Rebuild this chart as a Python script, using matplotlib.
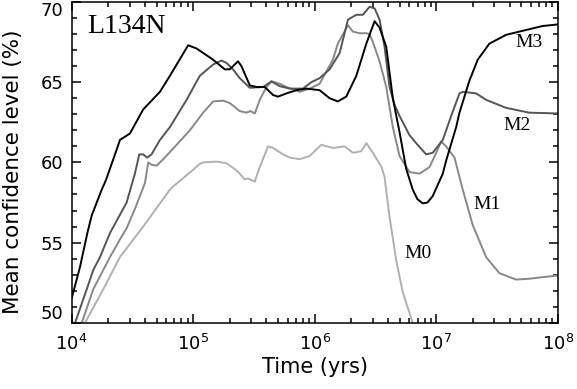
import numpy as np
import matplotlib
matplotlib.use("Agg")
import matplotlib.pyplot as plt
from matplotlib.ticker import FixedLocator, FixedFormatter, LogLocator, MultipleLocator, NullFormatter

plt.rcParams['font.family'] = ['DejaVu Sans']
plt.rcParams['mathtext.fontset'] = 'dejavusans'
plt.rcParams['mathtext.default'] = 'regular'

# ---- data: log10(time / yr) and mean confidence level (%) ----
m3_logt = [4.002, 4.070, 4.130, 4.166, 4.248, 4.283, 4.371, 4.398, 4.480, 4.589,
           4.727, 4.809, 4.959, 5.028, 5.164, 5.260, 5.301, 5.369, 5.397, 5.466,
           5.521, 5.589, 5.657, 5.698, 5.767, 5.849, 5.931, 6.040, 6.122, 6.190,
           6.259, 6.342, 6.424, 6.492, 6.533, 6.588, 6.642, 6.697, 6.752, 6.806,
           6.845, 6.888, 6.927, 6.970, 7.053, 7.080, 7.163, 7.190, 7.272, 7.340,
           7.436, 7.573, 7.709, 7.874, 8.000]
m3_conf = [51.55, 53.5, 55.6, 56.7, 58.3, 58.9, 60.8, 61.4, 61.8, 63.3,
           64.4, 65.4, 67.3, 67.1, 66.4, 65.8, 65.8, 66.3, 66.0, 64.8,
           64.7, 64.7, 64.2, 64.1, 64.3, 64.5, 64.6, 64.5, 64.0, 63.8,
           64.1, 65.4, 67.4, 68.8, 68.4, 67.2, 64.0, 61.9, 59.6, 58.3,
           57.7, 57.45, 57.5, 57.9, 59.3, 60.1, 62.2, 63.1, 65.1, 66.4,
           67.4, 67.95, 68.2, 68.5, 68.6]

m2_logt = [4.029, 4.125, 4.179, 4.234, 4.316, 4.453, 4.521, 4.557, 4.589, 4.622,
           4.658, 4.727, 4.809, 4.946, 5.055, 5.164, 5.233, 5.274, 5.328, 5.383,
           5.466, 5.575, 5.644, 5.712, 5.794, 5.903, 5.972, 6.040, 6.122, 6.204,
           6.273, 6.342, 6.396, 6.451, 6.492, 6.533, 6.574, 6.615, 6.656, 6.697,
           6.779, 6.834, 6.916, 6.970, 7.053, 7.122, 7.190, 7.217, 7.327, 7.409,
           7.573, 7.764, 7.997]
m2_conf = [50.0, 52.1, 53.3, 54.1, 55.6, 57.5, 59.3, 60.5, 60.5, 60.3,
           60.5, 61.4, 62.2, 63.9, 65.4, 66.1, 66.35, 66.2, 65.8, 65.25,
           64.65, 64.7, 65.05, 64.75, 64.6, 64.6, 65.0, 65.25, 65.8, 66.8,
           68.9, 69.2, 69.2, 69.7, 69.6, 68.9, 67.2, 64.7, 63.6, 62.9,
           61.7, 61.2, 60.5, 60.6, 61.4, 62.9, 64.3, 64.4, 64.3, 63.9,
           63.4, 63.1, 63.05]

m1_logt = [4.084, 4.179, 4.316, 4.398, 4.453, 4.521, 4.562, 4.603, 4.631, 4.658,
           4.700, 4.754, 4.864, 4.973, 5.082, 5.164, 5.246, 5.301, 5.383, 5.438,
           5.471, 5.507, 5.548, 5.603, 5.646, 5.712, 5.767, 5.876, 5.958, 6.040,
           6.149, 6.190, 6.273, 6.314, 6.369, 6.424, 6.451, 6.478, 6.533, 6.588,
           6.642, 6.697, 6.779, 6.861, 6.943, 6.993, 7.039, 7.080, 7.149, 7.217,
           7.299, 7.409, 7.518, 7.655, 7.764, 7.874, 7.997]
m1_conf = [50.0, 52.1, 54.1, 55.2, 55.9, 57.1, 57.9, 58.7, 60.0, 59.85,
           59.8, 60.2, 61.1, 62.0, 63.1, 63.8, 63.85, 63.7, 63.2, 63.1,
           63.2, 63.05, 63.9, 64.7, 65.05, 64.9, 64.7, 64.4, 64.6, 64.9,
           66.4, 67.4, 68.55, 68.15, 68.05, 68.05, 68.0, 67.5, 66.3, 64.7,
           62.2, 60.4, 59.4, 59.3, 59.7, 60.5, 61.3, 61.0, 60.3, 58.3,
           56.1, 54.1, 53.1, 52.7, 52.75, 52.85, 52.95]

m0_logt = [4.111, 4.275, 4.398, 4.589, 4.809, 4.836, 4.946, 5.055, 5.082, 5.192,
           5.274, 5.356, 5.383, 5.424, 5.452, 5.493, 5.507, 5.542, 5.616, 5.657,
           5.739, 5.794, 5.876, 5.958, 6.054, 6.149, 6.245, 6.314, 6.383, 6.424,
           6.478, 6.547, 6.574, 6.615, 6.670, 6.724, 6.806]
m0_conf = [50.0, 52.3, 54.1, 56.0, 58.3, 58.5, 59.2, 59.9, 60.0, 60.05,
           59.95, 59.5, 59.3, 58.95, 59.0, 58.85, 58.8, 59.6, 61.0, 60.9,
           60.5, 60.3, 60.2, 60.4, 61.1, 60.9, 61.0, 60.6, 60.7, 61.2,
           60.6, 59.75, 59.1, 56.6, 53.9, 51.9, 50.0]

series_names = ["M3", "M2", "M1", "M0"]
x_ticks = [1e4, 1e5, 1e6, 1e7, 1e8]
x_tick_labels = [r"$10^{4}$", r"$10^{5}$", r"$10^{6}$", r"$10^{7}$", r"$10^{8}$"]
y_ticks = [50, 55, 60, 65, 70]
y_tick_labels = ["50", "55", "60", "65", "70"]

colors = ["#000000", "#555555", "#888888", "#b0b0b0"]
label_pos = [(5.8e7, 67.45), (4.6e7, 62.3), (2.6e7, 57.35), (7.0e6, 54.3)]

fig = plt.figure(figsize=(5.77, 3.89), dpi=100)
ax = fig.add_axes([0.124, 0.170, 0.843, 0.825])

data = [(m3_logt, m3_conf), (m2_logt, m2_conf), (m1_logt, m1_conf), (m0_logt, m0_conf)]
for (lt, cf), c in zip(data[::-1], colors[::-1]):
    ax.plot(10 ** np.asarray(lt), cf, color=c, lw=1.4, solid_joinstyle='round')

for name, (xp, yp) in zip(series_names, label_pos):
    ax.text(xp, yp, name, family=['Liberation Serif', 'DejaVu Serif'], fontsize=14,
            ha='center', va='center')

ax.text(0.033, 0.925, "L134N", transform=ax.transAxes, family=['Liberation Serif', 'DejaVu Serif'],
        fontsize=20, ha='left', va='center')

ax.set_xscale('log')
ax.set_xlim(1e4, 1e8)
ax.set_ylim(50, 70)
ax.xaxis.set_major_locator(FixedLocator(x_ticks))
ax.xaxis.set_major_formatter(FixedFormatter(x_tick_labels))
ax.xaxis.set_minor_locator(LogLocator(base=10, subs=np.arange(2, 10)))
ax.xaxis.set_minor_formatter(NullFormatter())
ax.yaxis.set_major_locator(FixedLocator(y_ticks))
ax.yaxis.set_major_formatter(FixedFormatter(y_tick_labels))
ax.yaxis.set_minor_locator(MultipleLocator(1))

ax.tick_params(which='both', direction='in', top=True, right=True, width=1.1, colors='black')
ax.tick_params(which='major', length=6.5)
ax.tick_params(which='minor', length=3.3)
ax.tick_params(axis='x', which='major', labelsize=13, pad=8)
ax.tick_params(axis='y', which='major', labelsize=13, pad=6)
for s in ax.spines.values():
    s.set_linewidth(1.1)

fig.canvas.draw()
ylabels = ax.get_yticklabels()
ylabels[0].set_va('bottom')
ylabels[-1].set_va('top')

ax.set_xlabel("Time (yrs)", fontsize=15, labelpad=2)
ax.set_ylabel("Mean confidence level (%)", fontsize=15.5)
ax.yaxis.set_label_coords(-0.124 + 11.5 / 486.5, 0.47)

fig.savefig("out.png", dpi=100)
